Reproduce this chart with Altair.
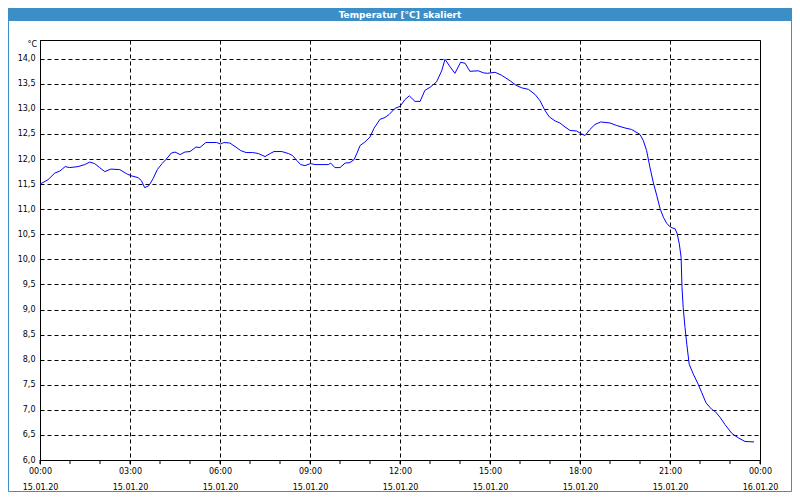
import altair as alt
import pandas as pd

# ---- data ----
hours = [0.00, 0.27, 0.49, 0.66, 0.84, 0.99, 1.27, 1.49, 1.66, 1.82, 1.99, 2.16, 2.36, 2.66, 2.88,
         3.02, 3.27, 3.38, 3.49, 3.63, 3.77, 3.91, 4.07, 4.21, 4.38, 4.50, 4.67, 4.83, 5.00, 5.20,
         5.33, 5.53, 5.89, 6.02, 6.13, 6.33, 6.50, 6.69, 6.87, 7.09, 7.28, 7.50, 7.67, 7.80, 8.06,
         8.28, 8.42, 8.56, 8.69, 8.83, 9.02, 9.17, 9.61, 9.69, 9.83, 10.00, 10.17, 10.33, 10.47,
         10.56, 10.67, 10.83, 11.00, 11.13, 11.33, 11.50, 11.64, 11.83, 12.00, 12.17, 12.31, 12.50,
         12.67, 12.83, 13.00, 13.22, 13.39, 13.50, 13.67, 13.83, 14.02, 14.17, 14.33, 14.61, 14.78,
         14.91, 15.17, 15.39, 15.67, 15.87, 16.06, 16.28, 16.50, 16.67, 16.83, 16.98, 17.17, 17.33,
         17.50, 17.67, 17.89, 18.02, 18.17, 18.33, 18.50, 18.69, 19.00, 19.22, 19.50, 19.72, 20.00,
         20.11, 20.22, 20.33, 20.44, 20.56, 20.67, 20.78, 20.89, 21.02, 21.17, 21.24, 21.31, 21.37,
         21.40, 21.44, 21.50, 21.56, 21.64, 21.78, 21.94, 22.06, 22.20, 22.39, 22.50, 22.67, 22.83,
         23.06, 23.28, 23.50, 23.80]
temps = [11.50, 11.59, 11.72, 11.76, 11.85, 11.83, 11.85, 11.89, 11.94, 11.91, 11.83, 11.75, 11.80,
         11.79, 11.71, 11.67, 11.63, 11.57, 11.43, 11.47, 11.61, 11.79, 11.91, 12.00, 12.12, 12.14,
         12.09, 12.14, 12.15, 12.24, 12.23, 12.33, 12.33, 12.30, 12.33, 12.32, 12.25, 12.17, 12.13,
         12.13, 12.11, 12.05, 12.11, 12.15, 12.15, 12.11, 12.07, 11.97, 11.89, 11.87, 11.91, 11.89,
         11.89, 11.92, 11.83, 11.83, 11.92, 11.93, 11.99, 12.11, 12.27, 12.34, 12.44, 12.61, 12.79,
         12.83, 12.89, 13.01, 13.05, 13.19, 13.26, 13.15, 13.15, 13.37, 13.43, 13.54, 13.76, 13.99,
         13.84, 13.71, 13.93, 13.91, 13.75, 13.76, 13.72, 13.71, 13.73, 13.67, 13.56, 13.47, 13.42,
         13.39, 13.29, 13.16, 12.97, 12.84, 12.76, 12.72, 12.64, 12.57, 12.56, 12.51, 12.47, 12.59,
         12.69, 12.74, 12.72, 12.67, 12.62, 12.59, 12.49, 12.37, 12.17, 11.84, 11.54, 11.27, 11.01,
         10.84, 10.72, 10.64, 10.61, 10.51, 10.31, 10.04, 9.44, 9.04, 8.64, 8.31, 7.91, 7.71, 7.51,
         7.34, 7.14, 7.01, 6.97, 6.85, 6.71, 6.53, 6.44, 6.37, 6.36]

major_tick_hours = [0, 3, 6, 9, 12, 15, 18, 21, 24]
minor_tick_hours = list(range(0, 25))
y_ticks = [6.0, 6.5, 7.0, 7.5, 8.0, 8.5, 9.0, 9.5, 10.0, 10.5, 11.0, 11.5, 12.0, 12.5,
           13.0, 13.5, 14.0]
title_text = "Temperatur [°C] skaliert"
unit_text = "°C"

BLUE = "#3c8fc6"
FONT = "DejaVu Sans"
W, H = 720, 420

base_day = pd.Timestamp("2020-01-15")
df = pd.DataFrame({
    "t": [base_day + pd.Timedelta(hours=h) for h in hours],
    "v": temps,
})
ticks_df = pd.DataFrame({"t": [base_day + pd.Timedelta(hours=h) for h in minor_tick_hours]})


def dt(h):
    ts = base_day + pd.Timedelta(hours=h)
    return alt.DateTime(year=ts.year, month=ts.month, date=ts.day, hours=ts.hour)


x_scale = alt.Scale(domain=[dt(0), dt(24)], nice=False)

line = alt.Chart(df).mark_line(color="#0000ff", strokeWidth=1, interpolate="linear").encode(
    x=alt.X("t:T", scale=x_scale, title=None,
            axis=alt.Axis(values=[dt(h) for h in major_tick_hours],
                          labelExpr="[timeFormat(datum.value, '%H:%M'), timeFormat(datum.value, '%d.%m.%y')]",
                          grid=True, gridDash=[4, 3], gridColor="#000000", gridOpacity=1,
                          tickSize=4, tickColor="#000000", domainColor="#000000",
                          labelFlush=False, labelOverlap=False, labelPadding=3,
                          labelLineHeight=16, labelBaseline="top")),
    y=alt.Y("v:Q", scale=alt.Scale(domain=[6.0, 14.374], nice=False, zero=False), title=None,
            axis=alt.Axis(values=y_ticks,
                          labelExpr="replace(format(datum.value, '.1f'), '.', ',')",
                          grid=True, gridDash=[4, 3], gridColor="#000000", gridOpacity=1,
                          ticks=False, domainColor="#000000", labelPadding=5)),
)

minor = alt.Chart(ticks_df).mark_rule(color="#000000", strokeWidth=1).encode(
    x=alt.X("t:T", scale=x_scale, title=None),
    y=alt.value(H),
    y2=alt.value(H + 4),
)

one = pd.DataFrame({"a": [0]})

title_bar = alt.Chart(one).mark_rect(color=BLUE).encode(
    x=alt.value(-32), x2=alt.value(W + 32), y=alt.value(-32), y2=alt.value(-19)
)
title = alt.Chart(one).mark_text(text=title_text, font=FONT, fontSize=9, fontWeight="bold",
                                 color="#ffffff", align="center", baseline="middle").encode(
    x=alt.value(W / 2), y=alt.value(-25.5)
)
unit = alt.Chart(one).mark_text(text=unit_text, font=FONT, fontSize=8, color="#000000",
                                align="right", baseline="middle").encode(
    x=alt.value(-3), y=alt.value(5)
)
frame = alt.Chart(one).mark_rect(filled=False, stroke=BLUE, strokeWidth=1).encode(
    x=alt.value(-31.5), x2=alt.value(W + 31.5), y=alt.value(-32), y2=alt.value(H + 31.5)
)

chart = alt.layer(title_bar, title, frame, line, minor, unit).properties(
    width=W, height=H,
    autosize=alt.AutoSizeParams(type="none"),
    padding={"left": 32, "top": 32, "right": 32, "bottom": 32},
    background="#ffffff",
).configure_view(stroke="#000000", strokeWidth=1).configure_axis(
    labelFont=FONT, labelFontSize=8, labelColor="#000000"
)

chart.save("out.html", embed_options={"renderer": "svg", "actions": False})
